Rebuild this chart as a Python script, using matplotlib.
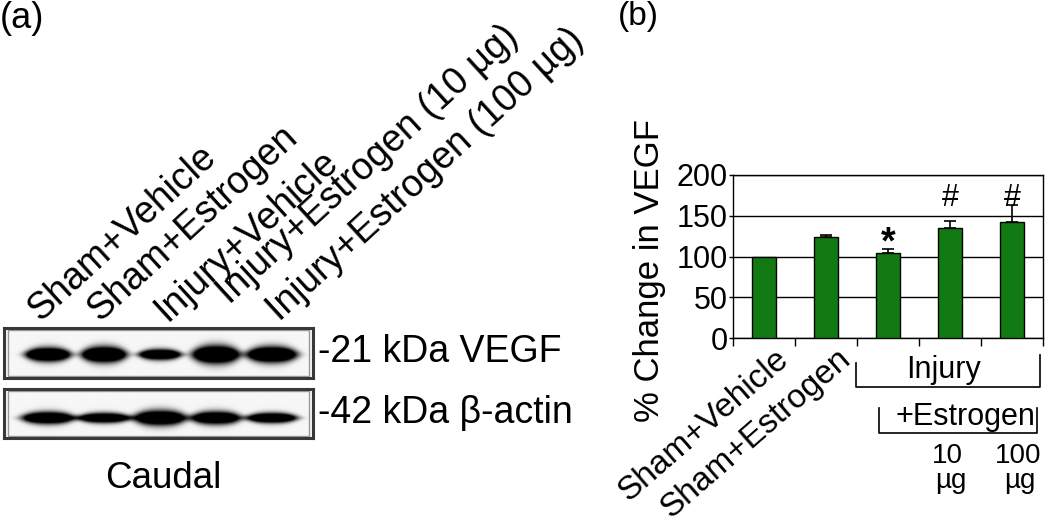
import numpy as np
import matplotlib
matplotlib.use("Agg")
import matplotlib.pyplot as plt
from matplotlib import transforms

plt.rcParams['font.family'] = ['Liberation Sans', 'DejaVu Sans']

# ---------------- data ----------------
# panel (a): western blot lanes
lane_labels = ["Sham+Vehicle", "Sham+Estrogen", "Injury+Vehicle",
               "Injury+Estrogen (10 µg)", "Injury+Estrogen (100 µg)"]
lanes = np.arange(5)
vegf_width = [0.80, 0.80, 0.75, 0.84, 0.89]     # band length (lane units)
vegf_thick = [0.26, 0.30, 0.20, 0.34, 0.30]     # band thickness (fraction of strip)
vegf_dark = [1.00, 1.00, 0.95, 1.00, 1.00]
actin_width = [0.93, 0.93, 0.93, 0.89, 0.89]
actin_thick = [0.24, 0.20, 0.30, 0.26, 0.20]
actin_dark = [0.92, 0.88, 0.92, 0.88, 0.92]
blot_names = ["-21 kDa VEGF", "-42 kDa β-actin"]
region_label = "Caudal"

# panel (b): % change in VEGF
bar_cats = ["Sham+Vehicle", "Sham+Estrogen", "Injury+Vehicle",
            "Injury+Estrogen 10", "Injury+Estrogen 100"]
bar_values = [100, 124, 104, 135, 142]
bar_err = [0, 2, 5, 9, 21]
bar_marks = ["", "", "*", "#", "#"]
yticks = [0, 50, 100, 150, 200]
ylabel = "% Change in VEGF"

W, H = 1050, 528
fig = plt.figure(figsize=(W / 100, H / 100), dpi=100)


def fx(px):
    return px / W


def fy(py):
    return 1 - py / H


# ---------------- panel (a) ----------------
fig.text(fx(0), fy(28), "(a)", fontsize=26, ha='left', va='baseline')

xmin, xmax = -0.786, 4.73


def draw_blot(ax, widths, thicks, dark, yc):
    xs = np.linspace(xmin, xmax, 900)
    ys = np.linspace(0, 1, 160)
    X, Y = np.meshgrid(xs, ys)
    img = np.full_like(X, 0.035)
    for i in range(len(widths)):
        dx = (X - lanes[i]) / (widths[i] / 2)
        taper = np.clip(1 - 0.35 * dx ** 2, 0.3, 1)
        dy = (Y - yc) / (thicks[i] / 2 * taper)
        prof = np.exp(-np.abs(dx) ** 4) * np.exp(-dy ** 2)
        img += 1.9 * dark[i] * prof
    img = np.clip(img, 0, 1)
    ax.imshow(img, extent=[xmin, xmax, 0, 1], origin='lower', cmap='gray_r',
              vmin=0, vmax=1, aspect='auto', interpolation='bilinear')
    ax.set_xlim(xmin, xmax)
    ax.set_ylim(0, 1)
    ax.set_xticks([])
    ax.set_yticks([])
    for s in ax.spines.values():
        s.set_color('#383838')
        s.set_linewidth(2.2)
    # faint inner frame line, as in the scanned blot
    ax.add_patch(plt.Rectangle((0.012, 0.04), 0.976, 0.92, transform=ax.transAxes,
                               fill=False, edgecolor='#9a9a9a', lw=1.0))


ax_v = fig.add_axes([fx(4), fy(378), 309 / W, 50 / H])
draw_blot(ax_v, vegf_width, vegf_thick, vegf_dark, 0.46)
ax_a = fig.add_axes([fx(4), fy(438), 309 / W, 49 / H])
draw_blot(ax_a, actin_width, actin_thick, actin_dark, 0.41)

fig.text(fx(318), fy(362), blot_names[0], fontsize=27, ha='left', va='baseline')
fig.text(fx(318), fy(423), blot_names[1], fontsize=27, ha='left', va='baseline')
fig.text(fx(163), fy(488), region_label, fontsize=26.5, ha='center', va='baseline')

# rotated lane labels
blend_a = transforms.blended_transform_factory(ax_v.transData, fig.transFigure)
lab_dx = [-0.14, -0.08, 0.12, 0.25, 0.14]
lab_y = [322, 322, 322, 305, 322]
for i, lab in enumerate(lane_labels):
    fig.text(lanes[i] + lab_dx[i], fy(lab_y[i]), lab, fontsize=27, rotation=42.5,
             rotation_mode='anchor', ha='left', va='baseline', transform=blend_a)

# ---------------- panel (b) ----------------
fig.text(fx(618), fy(25), "(b)", fontsize=24, ha='left', va='baseline')

ax = fig.add_axes([fx(733), fy(338), 310 / W, 163 / H])
x = np.arange(len(bar_values))
ax.bar(x, bar_values, width=0.4, color='#127a12', edgecolor='black',
       linewidth=1.0, zorder=3)
for i in range(len(x)):
    if bar_err[i] > 0:
        ax.errorbar(x[i], bar_values[i], yerr=[[0], [bar_err[i]]], fmt='none',
                    ecolor='black', elinewidth=1.2, capsize=4, capthick=1.2,
                    zorder=4)
ax.set_xlim(-0.5, len(x) - 0.5)
ax.set_ylim(0, 200)
ax.set_yticks(yticks)
ax.yaxis.grid(True, color='black', linewidth=1.0)
ax.set_axisbelow(True)
ax.set_xticks(np.arange(-0.5, len(x), 1.0))
ax.set_xticklabels([])
ax.tick_params(axis='x', direction='out', length=6, width=1)
ax.tick_params(axis='y', direction='out', length=3, width=1, labelsize=22, pad=1)
for s in ax.spines.values():
    s.set_color('black')
    s.set_linewidth(1.0)

for i, m in enumerate(bar_marks):
    if m == "*":
        ax.text(x[i], 104, m, fontsize=27, fontweight='bold', ha='center',
                va='baseline', zorder=5)
    elif m == "#":
        ax.text(x[i], 162, m, fontsize=22, ha='center', va='baseline', zorder=5)

fig.text(fx(650), fy(270), ylabel, fontsize=25, rotation=90, ha='center', va='center')

blend_b = transforms.blended_transform_factory(ax.transData, fig.transFigure)
for i in range(2):
    fig.text(x[i] + 0.17, fy(343), bar_cats[i], fontsize=24,
             rotation=41, rotation_mode='anchor', ha='right', va='top',
             transform=blend_b)

# Injury bracket
ax.plot([1.484, 1.484, 4.45, 4.45], [fy(363), fy(387), fy(387), fy(355)],
        color='black', lw=1.2, transform=blend_b, clip_on=False)
fig.text(2.89, fy(370), "Injury", fontsize=22, ha='center', va='center',
         transform=blend_b)
# +Estrogen bracket
ax.plot([1.855, 1.855, 4.40, 4.40], [fy(408), fy(433), fy(433), fy(408)],
        color='black', lw=1.2, transform=blend_b, clip_on=False)
fig.text(3.25, fy(417), "+Estrogen", fontsize=22, ha='center', va='center',
         transform=blend_b)
# doses
fig.text(2.95, fy(456), "10", fontsize=20, ha='center', va='center', transform=blend_b)
fig.text(3.02, fy(481), "µg", fontsize=20, ha='center', va='center', transform=blend_b)
fig.text(4.10, fy(456), "100", fontsize=20, ha='center', va='center', transform=blend_b)
fig.text(4.12, fy(481), "µg", fontsize=20, ha='center', va='center', transform=blend_b)

fig.savefig("out.png", dpi=100)
